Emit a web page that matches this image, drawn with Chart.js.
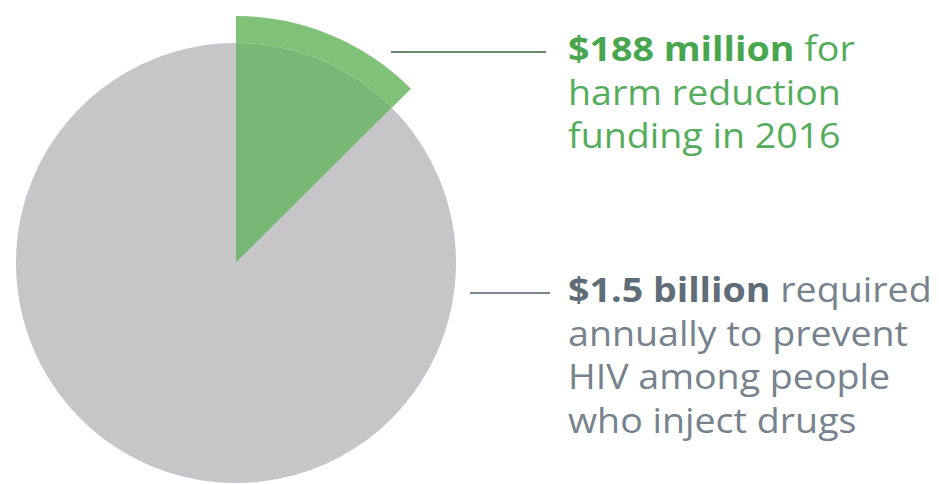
<!DOCTYPE html>
<html>
<head>
<meta charset="utf-8">
<script src="https://cdn.jsdelivr.net/npm/chart.js@4.4.0/dist/chart.umd.min.js"></script>
<style>
  html, body { margin: 0; padding: 0; background: #fff; overflow: hidden; }
  body { width: 939px; height: 484px; position: relative; font-family: "Open Sans", sans-serif; }
  #pieBox { position: absolute; left: -11.5px; top: 15.5px; width: 494px; height: 494px; }
  .lead { position: absolute; height: 2px; }
  .label { position: absolute; left: 568px; font-size: 34px; line-height: 43.5px; white-space: nowrap;
           transform: scaleX(1.105); transform-origin: left top; }
  .label b { font-weight: 700; }
  #greenLabel { top: 27px; color: #55ad5c; }
  #greenLabel b { color: #47a64f; }
  #greyLabel { top: 268px; color: #76838e; }
  #greyLabel b { color: #5f6d79; }
</style>
</head>
<body>
<div id="pieBox"><canvas id="pie"></canvas></div>

<div class="lead" style="left:391px; top:51px; width:155px; background:#6a8a6e;"></div>
<div class="lead" style="left:470px; top:292px; width:80px; background:#7a858d;"></div>

<div class="label" id="greenLabel"><b>$188 million</b> for<br>harm reduction<br>funding in 2016</div>
<div class="label" id="greyLabel"><b>$1.5 billion</b> required<br>annually to prevent<br>HIV among people<br>who inject drugs</div>

<script>
// values in millions of US$
const categories = ["Harm reduction funding 2016", "Remaining annual need"];
const funded = 188;
const required = 1500;
const sliceValues = [funded, required - funded];

// outer ring only shows the funded slice sticking out past the grey disc
const outerColors = ["#80c27a", "rgba(0,0,0,0)"];
const innerColors = ["#79b776", "#c6c6c8"];

new Chart(document.getElementById("pie"), {
    type: "pie",
    data: {
        labels: categories,
        datasets: [
            {
                data: sliceValues,
                backgroundColor: outerColors,
                borderWidth: 0,
                weight: 27
            },
            {
                data: sliceValues,
                backgroundColor: innerColors,
                borderWidth: 0,
                weight: 220
            }
        ]
    },
    options: {
        responsive: true,
        maintainAspectRatio: false,
        animation: false,
        radius: 247,
        hoverOffset: 0,
        layout: { padding: 0 },
        plugins: {
            legend: { display: false },
            tooltip: { enabled: false }
        }
    }
});
</script>
</body>
</html>
